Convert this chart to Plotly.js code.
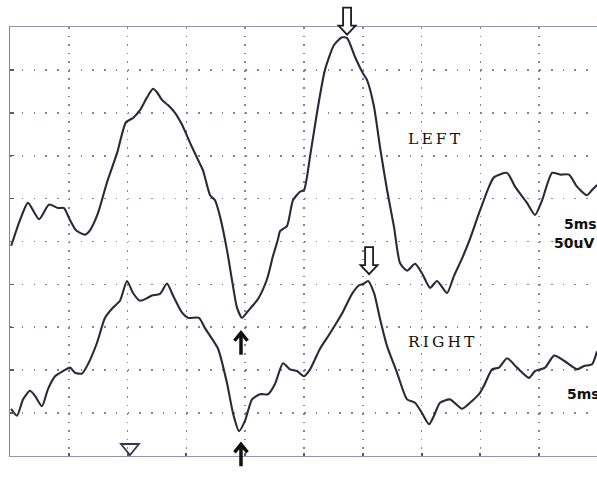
<!DOCTYPE html>
<html>
<head>
<meta charset="utf-8">
<script src="https://cdn.plot.ly/plotly-3.0.1.min.js"></script>
<style>html,body{margin:0;padding:0;background:#fff;}#chart{width:597px;height:486px;}</style>
</head>
<body>
<div id="chart"></div>
<script>
// Time in ms (5 ms / division), amplitude in µV (50 µV / division), display positions
const leftTime = [0.1,0.85,1.53,2.47,3.32,4.08,4.59,5.10,5.61,6.38,6.80,7.48,8.25,9.10,9.86,10.46,11.05,11.65,12.16,12.50,12.92,13.43,14.03,14.63,15.31,15.99,16.41,17.01,17.43,17.86,18.45,18.96,19.30,19.73,20.24,21.09,21.85,22.36,22.79,22.96,23.55,24.06,24.66,25.00,25.51,26.10,26.78,27.55,28.23,28.66,29.34,29.93,30.36,30.95,31.46,32.06,32.65,33.16,33.76,34.44,35.03,35.71,36.31,37.16,37.75,38.43,39.11,39.88,40.73,41.16,42.26,42.94,43.96,44.64,45.24,46.09,46.77,47.53,48.21,49.06,49.49,49.91];
const leftAmp = [245,275,295,276,293,289,289,275,263,258,263,283,319,353,389,394,403,418,428,424,415,409,400,386,365,345,333,304,298,279,240,198,173,161,169,183,206,233,253,262,268,298,308,310,349,400,450,479,488,487,465,448,438,407,360,310,267,225,216,224,213,196,204,190,210,230,253,283,314,325,330,314,295,281,298,330,328,328,314,304,310,316];
const rightTime = [0.09,0.60,1.11,1.70,2.13,2.72,3.23,3.83,4.51,5.10,5.53,6.12,6.63,7.40,8.08,8.76,9.35,9.95,10.46,11.05,11.65,12.07,12.75,13.35,13.86,14.63,15.14,16.07,16.58,17.01,17.69,18.45,18.96,19.47,19.98,20.58,21.26,21.94,22.53,23.21,23.81,24.40,25.00,25.51,26.36,27.21,28.23,29.08,29.68,30.10,30.44,30.95,31.46,32.06,32.91,33.76,34.44,35.03,35.63,36.05,36.56,37.41,38.43,39.11,39.88,40.30,40.99,41.58,42.26,43.11,44.13,44.64,45.49,46.26,47.11,48.21,48.81,49.49,49.91];
const rightAmp = [55,47,66,76,70,58,78,93,99,103,97,96,107,132,161,173,181,204,190,181,184,187,189,201,187,167,161,161,149,140,125,85,50,29,41,66,72,72,84,108,101,99,93,101,125,143,166,189,199,201,204,190,160,128,97,66,62,50,37,47,62,66,55,62,72,82,101,103,114,103,91,99,103,117,111,101,105,107,122];
const labels = {left: "L\u2009E\u2009F\u2009T", right: "R\u2009I\u2009G\u2009H\u2009T", time: "5ms", amp: "50uV"};
const peakMarks = [{t:28.66, a:491}, {t:30.53, a:212}];
const troughMarks = [{t:19.64, a:146}, {t:19.64, a:16}];
const stimTime = 10.2;

const XMAX = 49.91, YMAX = 500;
const traceColor = '#2c2839';
const px = t => t / XMAX, py = a => a / YMAX;

const traces = [
  {x: leftTime, y: leftAmp, mode: 'lines', line: {color: traceColor, width: 2.1, shape: 'spline', smoothing: 0.6}, hoverinfo: 'skip'},
  {x: rightTime, y: rightAmp, mode: 'lines', line: {color: traceColor, width: 2.1, shape: 'spline', smoothing: 0.6}, hoverinfo: 'skip'}
];

const shapes = [];
peakMarks.forEach(p => shapes.push({
  type: 'path', xref: 'paper', yref: 'paper', xsizemode: 'pixel', ysizemode: 'pixel',
  xanchor: px(p.t), yanchor: py(p.a),
  path: 'M-4,27 L4,27 L4,9 L8.5,9 L0,0 L-8.5,9 L-4,9 Z',
  line: {color: '#1e1b26', width: 1.8}, fillcolor: '#ffffff', layer: 'above'
}));
troughMarks.forEach(p => shapes.push({
  type: 'path', xref: 'paper', yref: 'paper', xsizemode: 'pixel', ysizemode: 'pixel',
  xanchor: px(p.t), yanchor: py(p.a),
  path: 'M0,-2 L0,-24 M-6.5,-10 L0,-2 L6.5,-10',
  line: {color: '#111111', width: 3.5}, layer: 'above'
}));
shapes.push({
  type: 'path', xref: 'paper', yref: 'paper', xsizemode: 'pixel', ysizemode: 'pixel',
  xanchor: px(stimTime), yanchor: 0,
  path: 'M-9,12 L9,12 L0,1 Z',
  line: {color: '#3a3450', width: 1.8}, fillcolor: 'rgba(0,0,0,0)', layer: 'above'
});

const sideFont = {family: 'DejaVu Sans', size: 14, color: '#111'};
const annotations = [
  {x: 36.1, y: 370, text: labels.left, showarrow: false, font: {family: 'DejaVu Serif', size: 15.5, color: '#111'}},
  {x: 36.7, y: 133, text: labels.right, showarrow: false, font: {family: 'DejaVu Serif', size: 15.5, color: '#111'}},
  {x: 47.0, y: 260, yanchor: 'bottom', borderpad: 0, text: '<b>' + labels.time + '</b>', xanchor: 'left', showarrow: false, font: sideFont},
  {x: 46.15, y: 259, yanchor: 'top', borderpad: 0, text: '<b>' + labels.amp + '</b>', xanchor: 'left', showarrow: false, font: sideFont},
  {x: 47.3, y: 72, borderpad: 0, text: '<b>' + labels.time + '</b>', xanchor: 'left', showarrow: false, font: sideFont}
];

const layout = {
  width: 597, height: 486,
  margin: {l: 10, r: 0, t: 27, b: 30, pad: 0},
  paper_bgcolor: '#ffffff', plot_bgcolor: '#ffffff',
  showlegend: false,
  xaxis: {range: [0, XMAX], dtick: 5, tick0: 0, showticklabels: false, zeroline: false,
    showgrid: true, gridcolor: '#7d84a6', gridwidth: 1.6, griddash: '1.6px,6.98px',
    showline: true, linecolor: '#8f95b0', linewidth: 1.3, mirror: true,
    ticks: 'inside', ticklen: 3, tickcolor: '#555a78', tickwidth: 2, fixedrange: true},
  yaxis: {range: [0, YMAX], dtick: 50, tick0: 0, showticklabels: false, zeroline: false,
    showgrid: true, gridcolor: '#7d84a6', gridwidth: 1.6, griddash: '1.6px,10.16px',
    showline: true, linecolor: '#8a7cb4', linewidth: 1.5, mirror: false,
    ticks: 'inside', ticklen: 4, tickcolor: '#555a78', tickwidth: 1.5, fixedrange: true},
  shapes: shapes,
  annotations: annotations
};

Plotly.newPlot('chart', traces, layout, {displayModeBar: false, staticPlot: true});
</script>
</body>
</html>
